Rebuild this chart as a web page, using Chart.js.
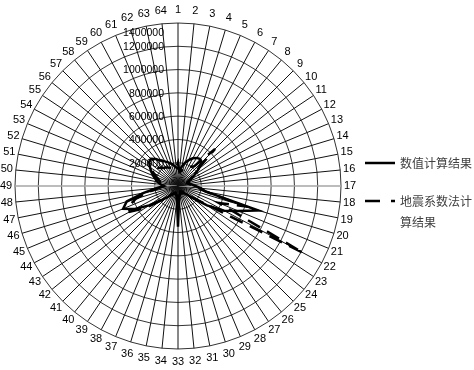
<!DOCTYPE html>
<html>
<head>
<meta charset="utf-8">
<script src="https://cdn.jsdelivr.net/npm/chart.js@4.4.1/dist/chart.umd.min.js"></script>
<style>
  html, body { margin: 0; padding: 0; background: #fff; }
  #wrap { width: 474px; height: 370px; }
</style>
</head>
<body>
<div id="wrap"><canvas id="radarChart" width="474" height="370"></canvas></div>
<script>
// points 1..64 around the circle
const categories = [
    '1', '2', '3', '4', '5', '6', '7', '8', '9', '10', '11', '12', '13', '14', '15', '16',
    '17', '18', '19', '20', '21', '22', '23', '24', '25', '26', '27', '28', '29', '30', '31', '32',
    '33', '34', '35', '36', '37', '38', '39', '40', '41', '42', '43', '44', '45', '46', '47', '48',
    '49', '50', '51', '52', '53', '54', '55', '56', '57', '58', '59', '60', '61', '62', '63', '64'
];

// 数值计算结果
const numericValues = [
    150000, 140000, 170000, 210000, 240000, 270000, 290000, 300000,
    280000, 230000, 170000, 130000, 100000, 90000, 100000, 120000,
    150000, 200000, 240000, 720000, 560000, 450000, 300000, 160000,
    100000, 80000, 70000, 60000, 60000, 70000, 80000, 100000,
    350000, 100000, 80000, 70000, 70000, 80000, 90000, 110000,
    140000, 200000, 300000, 420000, 510000, 460000, 300000, 180000,
    120000, 150000, 180000, 200000, 230000, 260000, 290000, 320000,
    330000, 300000, 260000, 240000, 220000, 200000, 180000, 160000
];

// 地震系数法计算结果
const seismicValues = [
    200000, 120000, 130000, 150000, 170000, 190000, 200000, 220000,
    450000, 200000, 150000, 110000, 90000, 80000, 90000, 110000,
    140000, 180000, 240000, 600000, 380000, 1220000, 260000, 150000,
    90000, 70000, 60000, 50000, 50000, 60000, 70000, 90000,
    150000, 90000, 70000, 60000, 60000, 70000, 80000, 100000,
    130000, 210000, 340000, 470000, 460000, 380000, 260000, 160000,
    110000, 130000, 150000, 170000, 200000, 240000, 270000, 250000,
    220000, 200000, 190000, 180000, 170000, 160000, 150000, 160000
];

const seriesNames = ['数值计算结果', '地震系数法计算结果'];
const tickLabels = ['0', '200000', '400000', '600000', '800000', '1000000', '1200000', '1400000'];

// value labels left of the vertical axis + category labels centred just outside the rim
const axisLabelPlugin = {
    id: 'axisLabelPlugin',
    beforeDatasetsDraw(chart) {
        const s = chart.scales.r;
        const ctx = chart.ctx;
        ctx.save();
        ctx.font = "10.5px 'Liberation Sans'";
        ctx.fillStyle = '#000';
        ctx.textAlign = 'right';
        ctx.textBaseline = 'middle';
        s.ticks.forEach((t, i) => {
            if (t.value === 0) return;
            let y = s.yCenter - s.getDistanceFromCenterForValue(t.value) + 1;
            if (i === s.ticks.length - 1) y += 9;
            ctx.fillText(t.label, s.xCenter - 14, y);
        });

        ctx.font = "11px 'Liberation Sans'";
        ctx.textAlign = 'center';
        chart.data.labels.forEach((lab, i) => {
            const c = Math.abs(Math.cos(s.getIndexAngle(i)));
            const p = s.getPointPosition(i, s.drawingArea + 9 + 4 * Math.pow(c, 6));
            ctx.fillText(lab, p.x, p.y);
        });
        ctx.restore();
    }
};

// legend on the right, with wrapped text
const sideLegendPlugin = {
    id: 'sideLegendPlugin',
    afterDraw(chart) {
        const ctx = chart.ctx;
        const rows = [163, 201];
        const legendDash = [[], [15, 11]];
        chart.data.datasets.forEach((ds, i) => {
            const y = rows[i];
            ctx.save();
            ctx.strokeStyle = ds.borderColor;
            ctx.lineWidth = 2.5;
            ctx.setLineDash(legendDash[i]);
            ctx.beginPath();
            ctx.moveTo(365, y);
            ctx.lineTo(395, y);
            ctx.stroke();
            ctx.setLineDash([]);
            ctx.font = "12px 'Noto Sans CJK SC'";
            ctx.fillStyle = '#404040';
            ctx.textBaseline = 'middle';
            let line = '';
            let ly = y;
            for (const ch of ds.label) {
                if (ctx.measureText(line + ch).width > 74) {
                    ctx.fillText(line, 400, ly);
                    line = ch;
                    ly += 21;
                } else {
                    line += ch;
                }
            }
            ctx.fillText(line, 400, ly);
            ctx.restore();
        });
    }
};

const ctx = document.getElementById('radarChart').getContext('2d');

new Chart(ctx, {
    type: 'radar',
    data: {
        labels: categories,
        datasets: [{
            label: seriesNames[0],
            data: numericValues,
            borderColor: '#000',
            borderWidth: 2.5,
            fill: false,
            pointRadius: 0,
            tension: 0
        }, {
            label: seriesNames[1],
            data: seismicValues,
            borderColor: '#000',
            borderWidth: 2.5,
            borderDash: [14, 8],
            fill: false,
            pointRadius: 0,
            tension: 0
        }]
    },
    options: {
        responsive: false,
        animation: false,
        // circle centre at (178,186), radius 163
        layout: { padding: { left: 15, top: 23, right: 133, bottom: 21 } },
        plugins: {
            legend: { display: false },
            tooltip: { enabled: false }
        },
        scales: {
            r: {
                min: 0,
                max: 1400000,
                ticks: {
                    stepSize: 200000,
                    display: false,
                    callback: (v, i) => tickLabels[i]
                },
                grid: {
                    circular: true,
                    color: '#333',
                    lineWidth: 1
                },
                angleLines: {
                    color: (c) => (c.index === 16 || c.index === 48) ? '#a6a6a6' : '#111',
                    lineWidth: (c) => (c.index === 16 || c.index === 48) ? 1.5 : 1
                },
                pointLabels: { display: false }
            }
        }
    },
    plugins: [axisLabelPlugin, sideLegendPlugin]
});
</script>
</body>
</html>
